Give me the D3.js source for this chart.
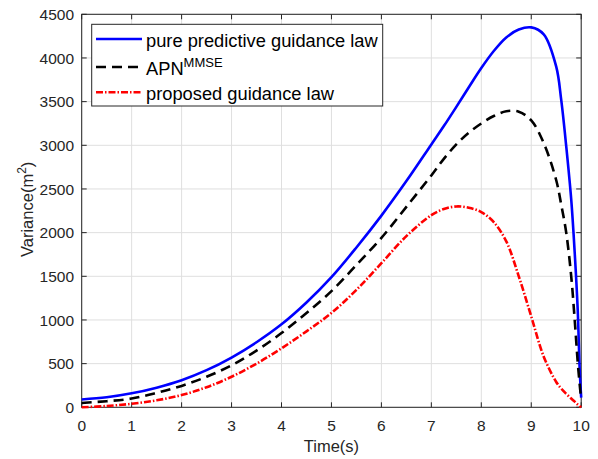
<!DOCTYPE html>
<html><head><meta charset="utf-8">
<script src="https://cdn.jsdelivr.net/npm/d3@7"></script>
<style>body{margin:0;background:#fff}svg{display:block}</style>
</head><body><svg id="c" width="598" height="459"></svg>
<script>
const time = [0,0.5,1,1.5,2,2.5,3,3.5,4,4.5,5,5.5,6,6.5,7,7.25,7.5,7.75,8,8.25,8.5,8.75,9,9.25,9.5,9.6,9.7,9.8,9.87,9.93,9.97,10];
const purePredictive = [90,115,160,225,310,425,570,745,950,1200,1490,1830,2195,2590,3010,3220,3440,3665,3885,4080,4235,4325,4350,4270,3900,3520,2990,2380,1770,1120,430,110];
const apnMMSE = [50,70,100,165,245,350,480,650,850,1080,1330,1630,1940,2295,2655,2845,3010,3145,3250,3335,3390,3385,3285,3025,2600,2320,2000,1500,1000,520,260,90];
const proposed = [0,15,40,80,140,230,350,500,675,870,1080,1345,1650,1960,2200,2270,2300,2285,2235,2120,1900,1500,1040,580,290,215,155,100,65,32,13,0];
const xTicks = [0,1,2,3,4,5,6,7,8,9,10];
const yTicks = [0,500,1000,1500,2000,2500,3000,3500,4000,4500];
const seriesNames = ["pure predictive guidance law","APN","proposed guidance law"];
const xLabel = "Time(s)";

const svg = d3.select("#c");
const font = "'Liberation Sans', Arial, sans-serif";
const axisColor = "#262626";
const L = 81.7, R = 581.2, T = 14.3, B = 407.3;
const x = d3.scaleLinear().domain([0,10]).range([L,R]);
const y = d3.scaleLinear().domain([0,4500]).range([B,T]);

svg.append("rect").attr("width",598).attr("height",459).attr("fill","#fff");

// grid
const grid = svg.append("g").attr("stroke","#dfdfdf").attr("stroke-width",1);
grid.selectAll(".gx").data(xTicks).join("line")
  .attr("x1",d=>x(d)).attr("x2",d=>x(d)).attr("y1",T).attr("y2",B);
grid.selectAll(".gy").data(yTicks).join("line")
  .attr("y1",d=>y(d)).attr("y2",d=>y(d)).attr("x1",L).attr("x2",R);

// axes
const tl = 5;
const ax = svg.append("g").attr("stroke",axisColor).attr("stroke-width",1).attr("fill","none");
ax.append("rect").attr("x",L).attr("y",T).attr("width",R-L).attr("height",B-T);
xTicks.forEach(d=>{
  ax.append("line").attr("x1",x(d)).attr("x2",x(d)).attr("y1",B).attr("y2",B-tl);
  ax.append("line").attr("x1",x(d)).attr("x2",x(d)).attr("y1",T).attr("y2",T+tl);
});
yTicks.forEach(d=>{
  ax.append("line").attr("y1",y(d)).attr("y2",y(d)).attr("x1",L).attr("x2",L+tl);
  ax.append("line").attr("y1",y(d)).attr("y2",y(d)).attr("x1",R).attr("x2",R-tl);
});

// tick labels
svg.append("g").selectAll("text").data(xTicks).join("text")
  .attr("x",d=>x(d)).attr("y",431).attr("text-anchor","middle")
  .attr("font-family",font).attr("font-size",15.5).attr("fill",axisColor).text(d=>d);
svg.append("g").selectAll("text").data(yTicks).join("text")
  .attr("x",74).attr("y",d=>y(d)).attr("dy","0.36em").attr("text-anchor","end")
  .attr("font-family",font).attr("font-size",15.5).attr("fill",axisColor).text(d=>d);

// axis titles
svg.append("text").attr("x",(L+R)/2).attr("y",452).attr("text-anchor","middle")
  .attr("font-family",font).attr("font-size",16.5).attr("fill",axisColor).text(xLabel);
const yl = svg.append("text").attr("transform","translate(33,257) rotate(-90)")
  .attr("font-family",font).attr("font-size",16.5).attr("fill",axisColor);
yl.append("tspan").text("Variance(m");
yl.append("tspan").attr("dy",-7).attr("font-size",12).text("2");
yl.append("tspan").attr("dy",7).text(")");

// lines
const mk = vals => d3.line().x((d,i)=>x(time[i])).y(d=>y(d)).curve(d3.curveCatmullRom.alpha(0.5))(vals);
const styles = [
  {vals:purePredictive,color:"#0000ff",dash:null},
  {vals:apnMMSE,color:"#000000",dash:"10,6"},
  {vals:proposed,color:"#ff0000",dash:"7,2,1.5,2"}
];
styles.forEach(s=>{
  svg.append("path").attr("d",mk(s.vals)).attr("fill","none")
    .attr("stroke",s.color).attr("stroke-width",2.6)
    .attr("stroke-dasharray",s.dash);
});

// legend
const lg = svg.append("g");
lg.append("rect").attr("x",91.7).attr("y",24.3).attr("width",291).attr("height",81.7)
  .attr("fill","#fff").attr("stroke",axisColor).attr("stroke-width",1);
const rows = [39,67,92.3];
const base = [46.7,75,99.5];
styles.forEach((s,i)=>{
  lg.append("line").attr("x1",96).attr("x2",142).attr("y1",rows[i]).attr("y2",rows[i])
    .attr("stroke",s.color).attr("stroke-width",2.6).attr("stroke-dasharray",s.dash);
  const t = lg.append("text").attr("x",146).attr("y",base[i])
    .attr("font-family",font).attr("font-size",18.3).attr("fill","#000");
  t.append("tspan").text(seriesNames[i]);
  if(i===1){
    t.append("tspan").attr("dy",-8).attr("font-size",13).text("MMSE");
  }
});
</script></body></html>
